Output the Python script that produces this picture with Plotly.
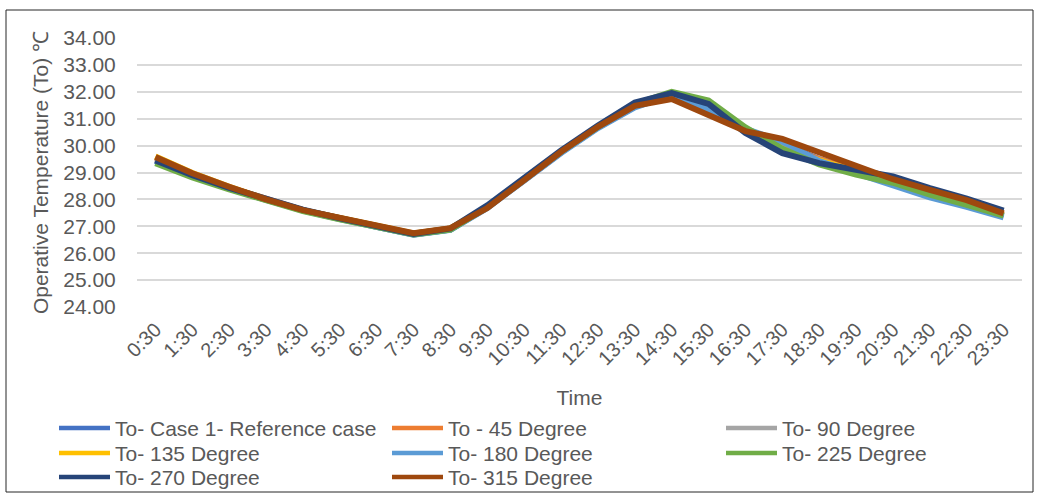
import plotly.graph_objects as go

times = ["0:30", "1:30", "2:30", "3:30", "4:30", "5:30", "6:30", "7:30", "8:30", "9:30",
         "10:30", "11:30", "12:30", "13:30", "14:30", "15:30", "16:30", "17:30", "18:30",
         "19:30", "20:30", "21:30", "22:30", "23:30"]

ref_case = [29.45, 28.90, 28.42, 27.98, 27.60, 27.28, 26.98, 26.70, 26.88, 27.70, 28.72, 29.75,
            30.68, 31.45, 31.90, 31.40, 30.60, 30.05, 29.50, 29.10, 28.60, 28.20, 27.80, 27.38]
deg_45 = [29.55, 28.95, 28.45, 28.00, 27.60, 27.30, 27.00, 26.72, 26.90, 27.70, 28.72, 29.75,
          30.68, 31.45, 31.85, 31.35, 30.60, 29.95, 29.50, 29.10, 28.65, 28.25, 27.85, 27.42]
deg_90 = [29.50, 28.93, 28.43, 27.99, 27.60, 27.29, 26.99, 26.71, 26.89, 27.70, 28.72, 29.75,
          30.68, 31.47, 31.90, 31.45, 30.60, 29.95, 29.45, 29.05, 28.62, 28.22, 27.82, 27.40]
deg_135 = [29.60, 28.98, 28.47, 28.00, 27.60, 27.30, 27.01, 26.73, 26.92, 27.72, 28.72, 29.76,
           30.70, 31.48, 31.85, 31.35, 30.58, 29.88, 29.45, 29.05, 28.65, 28.25, 27.85, 27.43]
deg_180 = [29.42, 28.88, 28.40, 27.97, 27.58, 27.27, 26.97, 26.69, 26.87, 27.68, 28.70, 29.72,
           30.65, 31.42, 31.88, 31.32, 30.62, 30.15, 29.42, 28.97, 28.50, 28.08, 27.72, 27.33]
deg_225 = [29.35, 28.82, 28.37, 27.95, 27.57, 27.26, 26.97, 26.70, 26.88, 27.72, 28.75, 29.78,
           30.70, 31.55, 32.00, 31.68, 30.68, 29.88, 29.30, 28.92, 28.62, 28.18, 27.80, 27.40]
deg_270 = [29.45, 28.90, 28.43, 28.00, 27.62, 27.30, 27.00, 26.72, 26.92, 27.78, 28.80, 29.82,
           30.75, 31.60, 31.95, 31.55, 30.47, 29.72, 29.35, 29.12, 28.85, 28.42, 28.03, 27.58]
deg_315 = [29.58, 28.97, 28.47, 28.00, 27.60, 27.30, 27.02, 26.74, 26.93, 27.68, 28.72, 29.77,
           30.70, 31.48, 31.73, 31.15, 30.54, 30.25, 29.75, 29.30, 28.75, 28.35, 27.97, 27.48]

series_names = ["To- Case 1- Reference case", "To - 45 Degree", "To- 90 Degree",
                "To- 135 Degree", "To- 180 Degree", "To- 225 Degree",
                "To- 270 Degree", "To- 315 Degree"]
series_values = [ref_case, deg_45, deg_90, deg_135, deg_180, deg_225, deg_270, deg_315]
series_colors = ["#4472C4", "#ED7D31", "#A5A5A5", "#FFC000", "#5B9BD5", "#70AD47",
                 "#264478", "#9E480E"]

y_ticks = [24, 25, 26, 27, 28, 29, 30, 31, 32, 33, 34]

FONT = "Liberation Sans, Arial, sans-serif"
TXT = "#595959"
FS = 21

W, H = 1039, 499
L, R, T, B = 137, 17, 38, 192
pw, ph = W - L - R, H - T - B


def px_x(p):
    return (p - L) / pw


def px_y(p):
    return (H - B - p) / ph


fig = go.Figure()
for name, vals, col in zip(series_names, series_values, series_colors):
    fig.add_trace(go.Scatter(x=times, y=vals, name=name, mode="lines",
                             line=dict(color=col, width=6), showlegend=False))

# legend (3 columns, row-major like the original)
col_x = [57, 390, 724]
row_y = [428, 453, 477]
shapes = [dict(type="rect", xref="paper", yref="paper",
               x0=px_x(6), x1=px_x(1033), y0=px_y(492), y1=px_y(10),
               line=dict(color="#262626", width=1), fillcolor="rgba(0,0,0,0)", layer="below")]
annotations = []
for i, (name, col) in enumerate(zip(series_names, series_colors)):
    cx = col_x[i % 3]
    ry = row_y[i // 3]
    shapes.append(dict(type="line", xref="paper", yref="paper",
                       x0=px_x(cx + 2), x1=px_x(cx + 53), y0=px_y(ry), y1=px_y(ry),
                       line=dict(color=col, width=4.5)))
    annotations.append(dict(text=name, xref="paper", yref="paper", x=px_x(cx + 56),
                            y=px_y(ry), xanchor="left", yanchor="middle", showarrow=False,
                            font=dict(family=FONT, size=FS, color=TXT)))

fig.update_layout(
    width=W, height=H,
    margin=dict(l=L, r=R, t=T, b=B, autoexpand=False),
    paper_bgcolor="white", plot_bgcolor="white",
    font=dict(family=FONT, size=FS, color=TXT),
    showlegend=False,
    xaxis=dict(type="category", range=[-0.5, 23.5], tickangle=-45, showgrid=False,
               showline=False, ticks="outside", ticklen=2, tickcolor="rgba(0,0,0,0)",
               tickfont=dict(size=20, color=TXT), automargin=False,
               title=dict(text="Time", font=dict(size=FS, color=TXT), standoff=22)),
    yaxis=dict(range=[24, 34], tickvals=y_ticks, tickformat=".2f", showgrid=True,
               gridcolor="#D9D9D9", gridwidth=1.5, zeroline=False, showline=False,
               ticks="outside", ticklen=16, tickcolor="rgba(0,0,0,0)",
               tickfont=dict(size=FS, color=TXT), automargin=False,
               title=dict(text="Operative Temperature (To) ℃", font=dict(size=FS, color=TXT),
                          standoff=8)),
    shapes=shapes,
    annotations=annotations,
)

fig.write_html("out.html", config={"displayModeBar": False},
               post_script="document.body.style.margin='0';document.body.style.padding='0';")
